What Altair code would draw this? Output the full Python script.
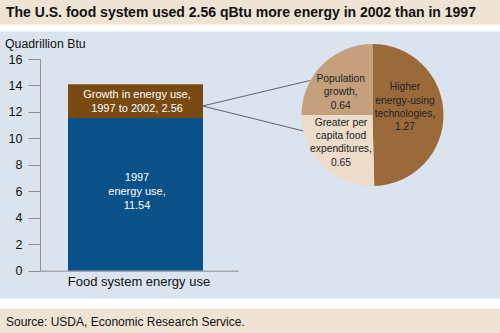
import math
import altair as alt
import pandas as pd

# ---------------- data ----------------
category = "Food system energy use"
segment_names = ["1997 energy use", "Growth in energy use, 1997 to 2002"]
segment_values = [11.54, 2.56]
segment_colors = ["#0b5189", "#7a4a13"]
y_ticks = [0, 2, 4, 6, 8, 10, 12, 14, 16]

pie_names = ["Higher energy-using technologies", "Greater per capita food expenditures", "Population growth"]
pie_lines = [["Higher", "energy-using", "technologies,"], ["Greater per", "capita food", "expenditures,"], ["Population", "growth,"]]
pie_values = [1.27, 0.65, 0.64]
pie_colors = ["#9b6a3b", "#ecdcc9", "#c5a07c"]

title_text = "The U.S. food system used 2.56 qBtu more energy in 2002 than in 1997"
source_text = "Source: USDA, Economic Research Service."
unit_text = "Quadrillion Btu"

FONT = "Liberation Sans"

# ---------------- tables ----------------
bar_labels = [
    f"1997\nenergy use,\n{segment_values[0]:.2f}",
    f"Growth in energy use,\n1997 to 2002, {segment_values[1]:.2f}",
]
cum = 0.0
rows = []
for i, (n, v) in enumerate(zip(segment_names, segment_values)):
    rows.append({"x": category, "seg": n, "v": v, "y0": cum, "y1": cum + v,
                 "mid": cum + v / 2, "label": bar_labels[i], "order": i})
    cum += v
bars_df = pd.DataFrame(rows)

total = sum(pie_values)
cum = 0.0
prow = []
for i, (n, v) in enumerate(zip(pie_names, pie_values)):
    prow.append({"name": n, "v": v, "start": cum, "end": cum + v, "mid": cum + v / 2,
                 "label": "\n".join(pie_lines[i]) + f"\n{v:.2f}", "order": i})
    cum += v
pie_df = pd.DataFrame(prow)

# ---------------- scales ----------------
y_scale = alt.Scale(domain=[0, 16], range=[270.7, 59], nice=False, zero=True)
x_scale = alt.Scale(domain=[category], range=[40, 238], paddingInner=0, paddingOuter=0)
theta_scale = alt.Scale(domain=[0, total], range=[0, 2 * math.pi])
pie_color = alt.Scale(domain=pie_names, range=pie_colors)
bar_color = alt.Scale(domain=segment_names, range=segment_colors)

CX, CY, R = 372.5, 115, 71

# ---------------- background ----------------
def band(y0, y1, color):
    return alt.Chart(pd.DataFrame({"a": [0]})).mark_rect(color=color).encode(
        x=alt.value(0), x2=alt.value(500), y=alt.value(y0), y2=alt.value(y1))

bg = band(0, 24.5, "#efe3d4") + band(31.5, 298.5, "#dae3ee") + band(308.5, 333, "#efe3d4")

title = alt.Chart(pd.DataFrame({"t": [title_text]})).mark_text(
    align="left", baseline="middle", font=FONT, fontSize=14, fontWeight="bold", color="#111"
).encode(x=alt.value(6), y=alt.value(12.5), text="t:N")

source = alt.Chart(pd.DataFrame({"t": [source_text]})).mark_text(
    align="left", baseline="middle", font=FONT, fontSize=12, color="#111"
).encode(x=alt.value(6), y=alt.value(321.5), text="t:N")

unit = alt.Chart(pd.DataFrame({"t": [unit_text]})).mark_text(
    align="left", baseline="middle", font=FONT, fontSize=12.3, color="#111"
).encode(x=alt.value(5), y=alt.value(44), text="t:N")

# ---------------- bars ----------------
bars = alt.Chart(bars_df).mark_bar(width=135, xOffset=-3.5).encode(
    x=alt.X("x:N", scale=x_scale, title=None,
            axis=alt.Axis(offset=-62.3, ticks=False, labelFontSize=13, labelFont=FONT,
                          labelColor="#111", labelPadding=5, domainColor="#8a8f98",
                          labelAngle=0, zindex=1)),
    y=alt.Y("y0:Q", scale=y_scale, title=None,
            axis=alt.Axis(offset=-40, values=y_ticks, format="d", grid=False, tickSize=12,
                          tickColor="#8a8f98", domainColor="#8a8f98", labelFontSize=12.5,
                          labelFont=FONT, labelColor="#111", labelPadding=6, zindex=1)),
    y2="y1:Q",
    color=alt.Color("seg:N", scale=bar_color, legend=None),
)

def bar_label(seg, dy):
    return alt.Chart(bars_df[bars_df["seg"] == seg]).mark_text(
        lineBreak="\n", lineHeight=13.8, font=FONT, fontSize=11, color="white", dx=-2, dy=dy
    ).encode(x=alt.X("x:N", scale=x_scale), y=alt.Y("mid:Q", scale=y_scale), text="label:N")

bar_text = bar_label(segment_names[0], -16) + bar_label(segment_names[1], -6)

# ---------------- connectors ----------------
conn1 = alt.Chart(pd.DataFrame({"a": [0]})).mark_rule(color="#5f6b7c", strokeWidth=1.1).encode(
    x=alt.value(202.5), y=alt.value(106), x2=alt.value(310), y2=alt.value(80.5))
conn2 = alt.Chart(pd.DataFrame({"a": [0]})).mark_rule(color="#5f6b7c", strokeWidth=1.1).encode(
    x=alt.value(202.5), y=alt.value(106), x2=alt.value(303.5), y2=alt.value(131))

# ---------------- pie ----------------
arcs = alt.Chart(pie_df).mark_arc(radius=R).encode(
    x=alt.value(CX), y=alt.value(CY),
    theta=alt.Theta("start:Q", scale=theta_scale),
    theta2="end:Q",
    color=alt.Color("name:N", scale=pie_color, legend=None),
)

def pie_label(name, radius, dx, dy):
    return alt.Chart(pie_df[pie_df["name"] == name]).mark_text(
        radius=radius, dx=dx, dy=dy, lineBreak="\n", lineHeight=13.3, font=FONT,
        fontSize=10.3, color="#222"
    ).encode(x=alt.value(CX), y=alt.value(CY),
             theta=alt.Theta("mid:Q", scale=theta_scale), text="label:N")

pie_text = (pie_label(pie_names[0], 32.5, 0, -27.3)
            + pie_label(pie_names[1], 42, -2.2, -22.4)
            + pie_label(pie_names[2], 40, -3.5, -7.7))

chart = alt.layer(
    bg, title, source, unit, bars, bar_text, conn1, conn2, arcs, pie_text
).properties(
    width=500, height=333, padding=0, background="white",
    autosize=alt.AutoSizeParams(type="none")
).configure_view(strokeWidth=0).resolve_scale(color="independent")

chart.save("out.html", embed_options={"renderer": "svg", "actions": False})
